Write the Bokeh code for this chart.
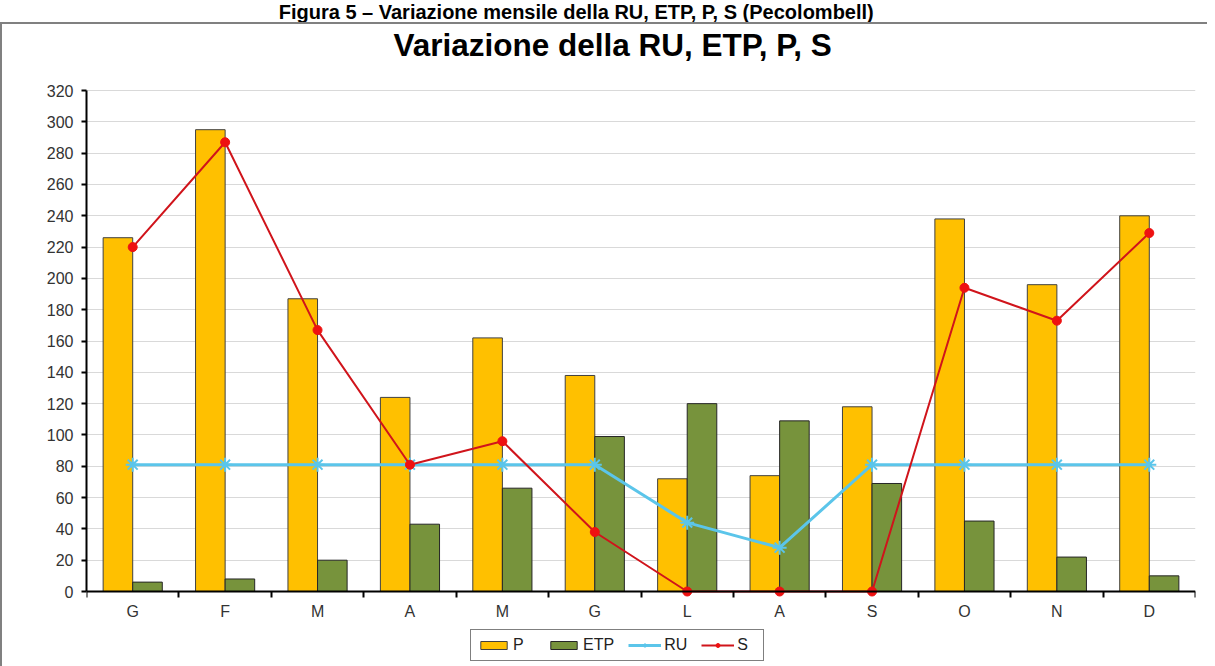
from bokeh.plotting import figure
from bokeh.models import Range1d, FixedTicker, Legend, LegendItem, ColumnDataSource, Label
from bokeh.layouts import column
from bokeh.transform import dodge
from bokeh.core.properties import value
from bokeh.embed import file_html
from bokeh.resources import INLINE

# ---- data ----
months = ["G", "F", "M", "A", "M", "G", "L", "A", "S", "O", "N", "D"]
P = [226, 295, 187, 124, 162, 138, 72, 74, 118, 238, 196, 240]
ETP = [6, 8, 20, 43, 66, 99, 120, 109, 69, 45, 22, 10]
RU = [81, 81, 81, 81, 81, 81, 44, 28, 81, 81, 81, 81]
S = [220, 287, 167, 81, 96, 38, 0, 0, 0, 194, 173, 229]
y_ticks = list(range(0, 321, 20))
y_max = 320
fig_caption = "Figura 5 – Variazione mensile della RU, ETP, P, S (Pecolombell)"
chart_title = "Variazione della RU, ETP, P, S"

FONT = "Liberation Sans"
xs = list(range(len(months)))
src = ColumnDataSource(dict(x=xs, P=P, ETP=ETP, RU=RU, S=S))

# ---- caption strip ----
head = figure(width=1207, height=22, x_range=Range1d(0, 1), y_range=Range1d(0, 1),
              output_backend="svg", toolbar_location=None, min_border=0)
head.axis.visible = False
head.grid.visible = False
head.outline_line_color = None
head.text(x=[0.477], y=[0.0], text=[fig_caption], text_font=value(FONT),
          text_font_style="bold", text_font_size="20px", text_align="center",
          text_baseline="bottom", text_color="#000000")

# ---- main chart ----
# the frame extends above the top tick and below zero to hold the title, labels and legend
p = figure(width=1205, height=642,
           x_range=Range1d(-0.5, len(months) - 0.5), y_range=Range1d(-45.35, 362.2),
           output_backend="svg", toolbar_location=None,
           min_border_left=84, min_border_right=12, min_border_top=0, min_border_bottom=4)
p.title.text = ""

p.add_layout(Label(x=307, y=618, x_units="screen", y_units="screen", text=chart_title,
                   text_font=FONT, text_font_size="31.5px", text_font_style="bold",
                   text_color="#000000", text_baseline="alphabetic", text_align="left"))

p.outline_line_color = None
p.xgrid.ticker = FixedTicker(ticks=[len(months) - 0.5])
p.xgrid.bounds = (0, y_max)
p.xgrid.grid_line_color = "#d9d9d9"
p.xgrid.grid_line_width = 2
p.ygrid.ticker = FixedTicker(ticks=y_ticks)
p.ygrid.grid_line_color = "#d9d9d9"
p.ygrid.grid_line_width = 1

bp = p.vbar(x=dodge("x", -0.16, range=p.x_range), top="P", width=0.32, source=src,
            fill_color="#FFC000", line_color="#404040", line_width=1)
be = p.vbar(x=dodge("x", 0.16, range=p.x_range), top="ETP", width=0.32, source=src,
            fill_color="#77933C", line_color="#262626", line_width=1)

ru_l = p.line("x", "RU", source=src, line_color="#5BC5EA", line_width=3)
ru_m = p.scatter("x", "RU", source=src, marker="asterisk", size=14,
                 line_color="#5BC5EA", line_width=2)
s_l = p.line("x", "S", source=src, line_color="#D0141B", line_width=2)
s_m = p.scatter("x", "S", source=src, marker="circle", size=9,
                fill_color="#EE1111", line_color="#EE1111")

# axes
xa = p.xaxis[0]
xa.fixed_location = 0
xa.ticker = FixedTicker(ticks=xs, minor_ticks=[i - 0.5 for i in range(len(months) + 1)])
xa.major_label_overrides = {i: m for i, m in enumerate(months)}
xa.major_tick_in = 0
xa.major_tick_out = 0
xa.minor_tick_in = 0
xa.minor_tick_out = 6
xa.minor_tick_line_color = "black"
xa.minor_tick_line_width = 2
xa.axis_line_color = "black"
xa.axis_line_width = 2
xa.major_label_text_font = FONT
xa.major_label_text_font_size = "16px"
xa.major_label_text_color = "#333333"
xa.major_label_standoff = 5

ya = p.yaxis[0]
ya.bounds = (0, y_max)
ya.ticker = FixedTicker(ticks=y_ticks)
ya.major_tick_in = 0
ya.major_tick_out = 5
ya.major_tick_line_color = "black"
ya.major_tick_line_width = 2
ya.minor_tick_in = 0
ya.minor_tick_out = 0
ya.axis_line_color = "black"
ya.axis_line_width = 2
ya.major_label_text_font = FONT
ya.major_label_text_font_size = "16px"
ya.major_label_text_color = "#333333"
ya.major_label_standoff = 8

legend = Legend(items=[LegendItem(label="P", renderers=[bp]),
                       LegendItem(label="ETP", renderers=[be]),
                       LegendItem(label="RU", renderers=[ru_l, ru_m]),
                       LegendItem(label="S", renderers=[s_l, s_m])],
                orientation="horizontal", location=(384, 1),
                border_line_color="black", border_line_width=1,
                background_fill_color="white", background_fill_alpha=1,
                label_text_font=FONT, label_text_font_size="16px", label_text_color="#222222",
                glyph_width=33, glyph_height=10, padding=6, spacing=14, label_standoff=3,
                margin=0)
p.add_layout(legend, "center")

box = column(p, styles={"border-top": "2px solid #808080", "border-left": "2px solid #808080"})
layout = column(head, box, spacing=0)
open("out.html", "w").write(file_html(layout, INLINE))
